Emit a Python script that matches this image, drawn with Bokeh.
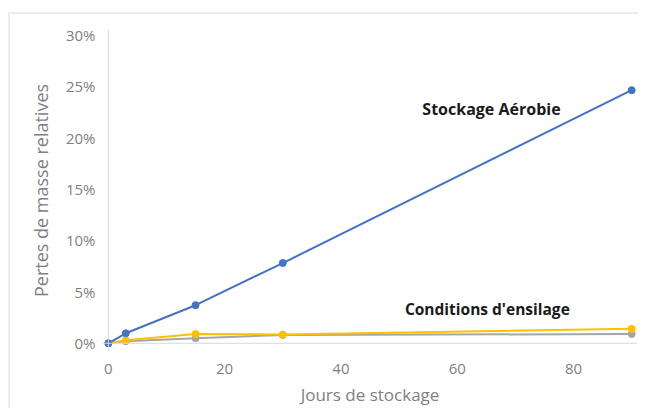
from bokeh.plotting import figure
from bokeh.models import Range1d, Span, NumeralTickFormatter, FixedTicker
from bokeh.core.properties import value
from bokeh.embed import file_html
from bokeh.resources import INLINE

jours = [0, 3, 15, 30, 90]
aerobie = [0.0, 0.0097, 0.037, 0.078, 0.246]
ensilage_gris = [0.0, 0.002, 0.005, 0.008, 0.009]
ensilage_jaune = [0.0, 0.003, 0.009, 0.0085, 0.014]
x_ticks = [0, 20, 40, 60, 80]
y_ticks = [0, 0.05, 0.10, 0.15, 0.20, 0.25, 0.30]

FONT = "Open Sans"

p = figure(frame_width=535, frame_height=322, output_backend="svg", toolbar_location=None,
           x_range=Range1d(-1, 91), y_range=Range1d(-0.008, 0.305),
           min_border_left=102, min_border_top=29, min_border_right=1, min_border_bottom=48)
p.border_fill_color = None
p.background_fill_color = None
p.styles = {
    "background": "linear-gradient(#ececec,#ececec) 8px 12px / 100% 2px no-repeat, "
                  "linear-gradient(#ececec,#ececec) 8px 12px / 2px 100% no-repeat, #ffffff",
}
p.outline_line_color = None
p.grid.visible = False

for ax in (p.xaxis[0], p.yaxis[0]):
    ax.axis_line_color = None
    ax.major_tick_line_color = None
    ax.minor_tick_line_color = None
    ax.major_label_text_color = "#7f7f7f"
    ax.major_label_text_font = FONT
    ax.major_label_text_font_size = "15px"
    ax.axis_label_text_color = "#7f7f7f"
    ax.axis_label_text_font = FONT
    ax.axis_label_text_font_style = "normal"

p.xaxis.axis_label_text_font_size = "17px"
p.yaxis.axis_label_text_font_size = "18px"
p.xaxis.ticker = FixedTicker(ticks=x_ticks)
p.yaxis.ticker = FixedTicker(ticks=y_ticks)
p.yaxis.formatter = NumeralTickFormatter(format="0%")
p.xaxis.axis_label = "Jours de stockage"
p.yaxis.axis_label = "Pertes de masse relatives"
p.xaxis.major_label_standoff = 6
p.xaxis.axis_label_standoff = 6
p.yaxis.major_label_standoff = 1
p.yaxis.axis_label_standoff = 10

p.add_layout(Span(location=0, dimension="width", line_color="#d9d9d9", line_width=1))
p.add_layout(Span(location=0, dimension="height", line_color="#d9d9d9", line_width=1))

series = [(ensilage_gris, "#a5a5a5"), (ensilage_jaune, "#ffc000"), (aerobie, "#4472c4")]
for ys, c in series:
    p.line(jours, ys, line_color=c, line_width=2)
    p.scatter(jours, ys, size=7, fill_color=c, line_color=c)

p.text(x=[54], y=[0.228], text=["Stockage Aérobie"], text_font=value(FONT),
       text_font_size="16px", text_font_style="bold", text_color="#1a1a1a",
       text_baseline="middle", text_align="left")
p.text(x=[51], y=[0.033], text=["Conditions d'ensilage"], text_font=value(FONT),
       text_font_size="15.5px", text_font_style="bold", text_color="#1a1a1a",
       text_baseline="middle", text_align="left")

open("out.html", "w").write(file_html(p, INLINE))
